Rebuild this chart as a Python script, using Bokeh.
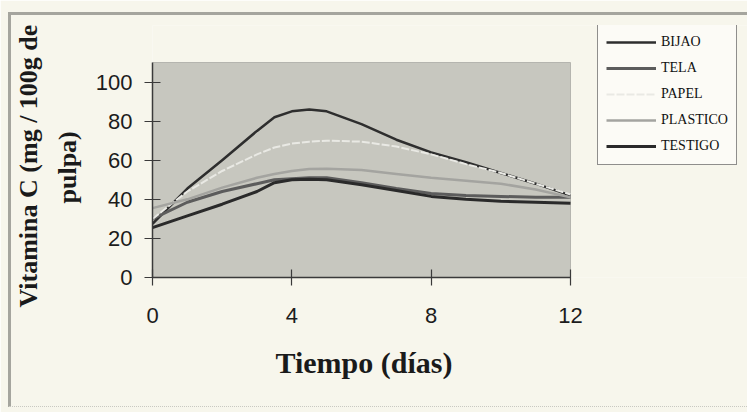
from bokeh.plotting import figure
from bokeh.models import (Legend, LegendItem, Range1d, FixedTicker, BoxAnnotation, Title,
                          InlineStyleSheet)
from bokeh.embed import file_html
from bokeh.resources import INLINE

# ---- data ----
days = [0, 1, 2, 3, 3.5, 4, 4.5, 5, 6, 7, 8, 9, 10, 11, 12]
bijao = [27.5, 45.5, 60, 75, 82, 85, 86, 85, 78.5, 70.5, 64, 59, 53.5, 48, 42]
tela = [30, 38.5, 44, 48, 50, 50.5, 51, 51, 48.5, 45.5, 43, 42, 41.5, 41, 41]
papel = [30, 44, 54.5, 63, 66.5, 68.5, 69.5, 70, 69.5, 67, 63, 58, 53.5, 48, 42.5]
plastico = [35.5, 40, 46, 51, 53, 54.5, 55.5, 55.7, 55, 53, 51, 49.5, 48, 45, 41]
testigo = [25.5, 31.5, 37.5, 44, 48.5, 50, 50.3, 50, 47.5, 44.5, 41.5, 40, 39, 38.5, 38]

series_names = ["BIJAO", "TELA", "PAPEL", "PLASTICO", "TESTIGO"]
x_ticks = [0, 4, 8, 12]
y_ticks = [0, 20, 40, 60, 80, 100]
x_min, x_max = 0, 12
y_min, y_max = 0, 110

PAGE_BG = "#f7f6ec"
PLOT_BG = "#c7c7bf"

# layout in pixels: plot area 152..570 x 62..277, frame extended right/up to hold the legend
W, H = 747, 412
FL, FT, FB = 152, 25, 277
plot_w = 570 - FL          # pixels for x_min..x_max
plot_h = FB - 62           # pixels for y_min..y_max
x_end = x_max * (W - FL) / plot_w
y_end = y_max * (FB - FT) / plot_h

p = figure(width=W, height=H, output_backend="svg", toolbar_location=None,
           x_range=Range1d(x_min, x_end), y_range=Range1d(y_min, y_end),
           min_border_left=FL, min_border_right=0,
           min_border_top=FT, min_border_bottom=H - FB)
p.background_fill_color = PAGE_BG
p.border_fill_color = PAGE_BG
p.outline_line_color = None
p.grid.visible = False
p.stylesheets = [InlineStyleSheet(css="""
:host { position: relative; }
:host::after {
  content: ""; position: absolute; z-index: 20; pointer-events: none;
  left: 8px; top: 12px; right: -20px; bottom: 5px;
  border-left: 3px solid #a5a59e; border-top: 3px solid #a5a59e;
  border-bottom: 1px dotted #c9c9c2;
}
""")]

p.add_layout(BoxAnnotation(left=x_min, right=x_max, bottom=y_min, top=y_max,
                           fill_color=PLOT_BG, fill_alpha=1,
                           line_color="#555555", line_width=1, level="underlay"))

styles = [
    dict(color="#2e2e2e", width=2.5, dash="solid"),
    dict(color="#5c5c5c", width=3, dash="solid"),
    dict(color="#e9e9e4", width=2, dash="8 2"),
    dict(color="#a4a4a0", width=2.5, dash="solid"),
    dict(color="#2a2a2a", width=3, dash="solid"),
]
data = [bijao, tela, papel, plastico, testigo]
renderers = []
for vals, st in zip(data, styles):
    r = p.line(days, vals, line_color=st["color"], line_width=st["width"],
               line_dash=st["dash"], line_join="round")
    renderers.append(r)

for ax in (p.xaxis[0], p.yaxis[0]):
    ax.major_label_text_font = "Liberation Sans"
    ax.major_label_text_font_size = "22px"
    ax.major_label_text_color = "#1c1c1c"
    ax.axis_line_color = "#3a3a3a"
    ax.axis_line_width = 1.5
    ax.major_tick_line_color = "#3a3a3a"
    ax.major_tick_line_width = 1.2
    ax.major_tick_in = 8
    ax.major_tick_out = 8
    ax.minor_tick_line_color = None

p.xaxis.ticker = FixedTicker(ticks=x_ticks)
p.yaxis.ticker = FixedTicker(ticks=y_ticks)
p.xaxis.bounds = (x_min, x_max)
p.yaxis.bounds = (y_min, y_max)
p.xaxis.major_label_standoff = 22
p.yaxis.major_label_standoff = 12

title_style = dict(text_font="Liberation Serif", text_font_style="bold", text_color="#1a1a1a")
p.add_layout(Title(text="Tiempo (días)", align="left", offset=123, standoff=36,
                   text_font_size="30px", **title_style), "below")
p.add_layout(Title(text="pulpa)", align="left", offset=74, standoff=22,
                   text_font_size="26px", **title_style), "left")
p.add_layout(Title(text="Vitamina C (mg / 100g de", align="left", offset=-30, standoff=-6,
                   text_font_size="26px", **title_style), "left")

legend = Legend(items=[LegendItem(label=n, renderers=[r]) for n, r in zip(series_names, renderers)],
                location=(597 - FL, FB - 165), orientation="vertical",
                glyph_width=50, glyph_height=20, label_height=20, spacing=6,
                padding=8, margin=0, label_standoff=5,
                label_text_font="Liberation Serif", label_text_font_size="14px",
                label_text_color="#111111",
                border_line_color="#222222", border_line_width=1,
                background_fill_color="#fcfbf6", background_fill_alpha=1)
p.add_layout(legend, "center")

open("out.html", "w").write(file_html(p, INLINE))
